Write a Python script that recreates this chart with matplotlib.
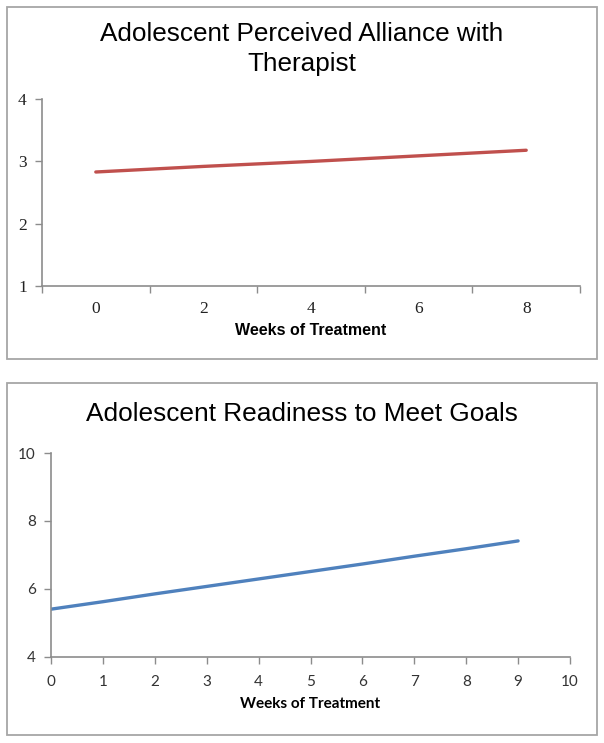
import matplotlib.pyplot as plt
from matplotlib.patches import Rectangle

# --- data ---
alliance_weeks = [0, 2, 4, 6, 8]
alliance_scores = [2.83, 2.92, 3.00, 3.09, 3.18]
alliance_yticks = [1, 2, 3, 4]

readiness_weeks = [0, 1, 2, 3, 4, 5, 6, 7, 8, 9]
readiness_scores = [5.40, 5.62, 5.85, 6.07, 6.29, 6.51, 6.73, 6.96, 7.18, 7.41]
readiness_xticks = list(range(0, 11))
readiness_yticks = [4, 6, 8, 10]

W, H = 604, 743
AXIS_GREY = "#8c8c8c"

fig = plt.figure(figsize=(W / 100, H / 100), dpi=100)


def fx(px):
    return px / W


def fy(py):
    return 1 - py / H


# panel borders
for top, bottom in [(7, 359), (383, 735)]:
    fig.patches.append(Rectangle((fx(7), fy(bottom)), fx(597) - fx(7), fy(top) - fy(bottom),
                                 transform=fig.transFigure, fill=False,
                                 edgecolor="#a6a6a6", linewidth=1.3))


def style_axes(ax):
    for side in ("top", "right"):
        ax.spines[side].set_visible(False)
    for side in ("left", "bottom"):
        ax.spines[side].set_color(AXIS_GREY)
        ax.spines[side].set_linewidth(1.2)
    ax.tick_params(which="both", color=AXIS_GREY, width=1.0, length=5, direction="out")


# --- top chart: perceived alliance ---
ax1 = fig.add_axes([fx(42), fy(285.7), fx(580) - fx(42), fy(99.3) - fy(285.7)])
style_axes(ax1)
ax1.plot(alliance_weeks, alliance_scores, color="#c0504d", linewidth=2.4, solid_capstyle="round")
ax1.set_xlim(-1, 9)
ax1.set_ylim(1, 4)
ax1.set_yticks(alliance_yticks)
ax1.set_xticks(alliance_weeks)
ax1.set_xticks([-1, 1, 3, 5, 7, 9], minor=True)
ax1.tick_params(axis="x", which="major", length=0, pad=11)
ax1.tick_params(axis="y", pad=6)
for lab in ax1.get_xticklabels() + ax1.get_yticklabels():
    lab.set_fontfamily("Liberation Serif")
    lab.set_fontsize(12.5)
    lab.set_color("#222222")
ax1.set_xlabel("Weeks of Treatment", fontfamily="Liberation Sans", fontweight="bold",
               fontsize=11.5, labelpad=4)
fig.text(0.5, fy(49), "Adolescent Perceived Alliance with\nTherapist", ha="center", va="center",
         fontfamily="Liberation Sans", fontsize=18.8, linespacing=1.3)

# --- bottom chart: readiness to meet goals ---
ax2 = fig.add_axes([fx(51), fy(656.7), fx(570) - fx(51), fy(453) - fy(656.7)])
style_axes(ax2)
ax2.plot(readiness_weeks, readiness_scores, color="#4f81bd", linewidth=2.4, solid_capstyle="round")
ax2.set_xlim(0, 10)
ax2.set_ylim(4, 10)
ax2.set_xticks(readiness_xticks)
ax2.set_yticks(readiness_yticks)
ax2.tick_params(axis="x", pad=8)
ax2.tick_params(axis="y", pad=6)
for lab in ax2.get_xticklabels() + ax2.get_yticklabels():
    lab.set_fontfamily("Lato")
    lab.set_fontsize(11)
    lab.set_color("#333333")
ax2.set_xlabel("Weeks of Treatment", fontfamily="Lato", fontweight="bold",
               fontsize=11, labelpad=6)
fig.text(0.5, fy(414), "Adolescent Readiness to Meet Goals", ha="center", va="center",
         fontfamily="Liberation Sans", fontsize=18.9)

fig.savefig("out.png", dpi=100)
